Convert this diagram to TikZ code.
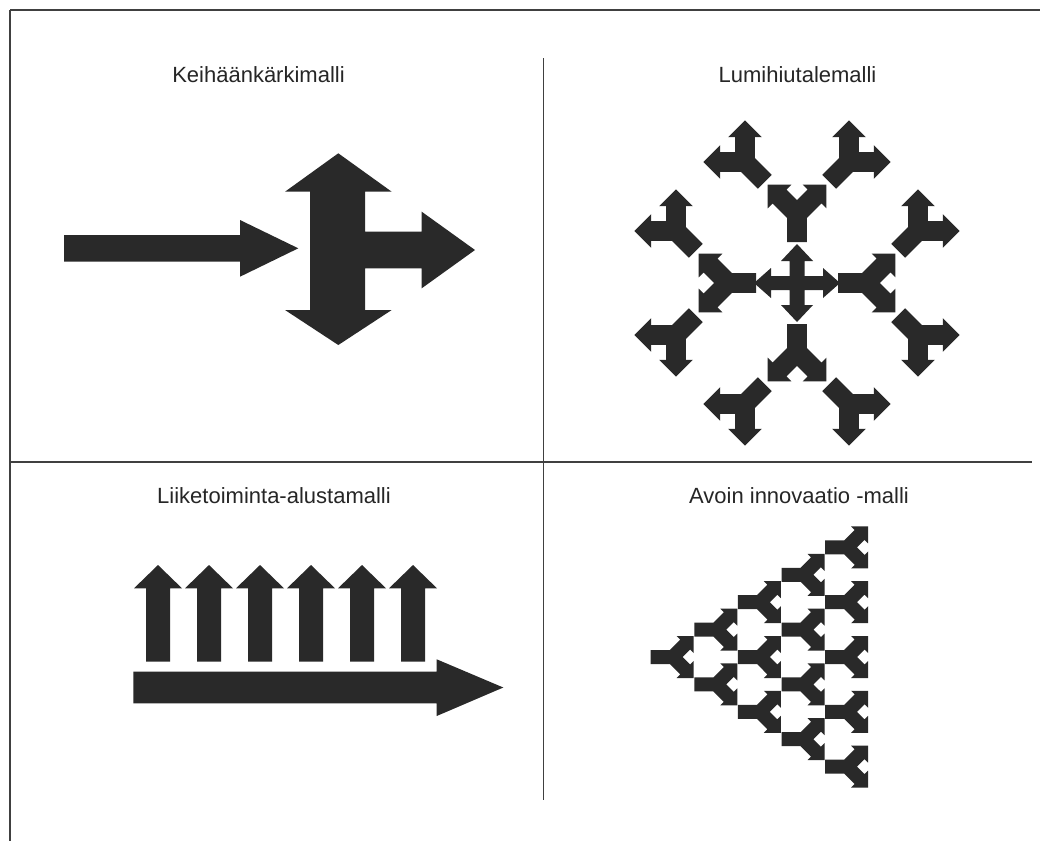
\documentclass[tikz,border=0pt]{standalone}
\usepackage{fontspec}
\setmainfont{Liberation Sans}
\usetikzlibrary{calc}
\tikzset{
  shapefill/.style={fill=black!84},
  rule/.style={draw=black!75, line width=1.6pt},
  lbl/.style={anchor=base, inner sep=0pt, font=\fontsize{22}{26}\selectfont, text=black!85},
  yel/.pic={
    \fill[shapefill] (0,-7) -- (0,7) -- ({#1-2.899},7) -- ({#1+7.55},17.45)
      -- ({#1+4},21) -- ({#1+21},21) -- ({#1+21},4) -- ({#1+17.45},7.55)
      -- ({#1+9.899},0) -- ({#1+17.45},-7.55) -- ({#1+21},-4) -- ({#1+21},-21)
      -- ({#1+4},-21) -- ({#1+7.55},-17.45) -- ({#1-2.899},-7) -- cycle;
  }
}
\begin{document}
\begin{tikzpicture}[x=1pt,y=1pt]
\useasboundingbox (0,0) rectangle (1040,-841);
\fill[white] (0,0) rectangle (1040,-841);

% frame and dividers
\draw[rule] (10,-10) -- (1040,-10);
\draw[rule] (10,-10) -- (10,-841);
\draw[rule] (543.5,-58) -- (543.5,-800);
\draw[rule] (10,-461.7) -- (1032,-461.7);

% labels
\node[lbl] (t1) at (258.5,-82.5) {Keihäänkärkimalli};
\node[lbl] (t2) at (797.5,-82.5) {Lumihiutalemalli};
\node[lbl] (t3) at (274,-503) {Liiketoiminta-alustamalli};
\node[lbl] (t4) at (799,-503) {Avoin innovaatio -malli};

% Keihaankarkimalli
\fill[shapefill] (64,-235) -- (240,-235) -- (240,-220) -- (298.3,-248.3)
  -- (240,-276.7) -- (240,-261.7) -- (64,-261.7) -- cycle;
\fill[shapefill] (310,-191.7) -- (285,-191.7) -- (338.3,-153.3) -- (391.7,-191.7)
  -- (365,-191.7) -- (365,-231.7) -- (421.7,-231.7) -- (421.7,-211.7)
  -- (475,-250) -- (421.7,-288.3) -- (421.7,-268.3) -- (365,-268.3)
  -- (365,-310) -- (391.7,-310) -- (338.3,-345) -- (285,-310) -- (310,-310) -- cycle;

% Lumihiutalemalli
\coordinate (C) at (797,-283);
\fill[shapefill] ($(C)+(7.5,7)$) -- ($(C)+(26,7)$) -- ($(C)+(26,15)$) -- ($(C)+(43,0)$)
  -- ($(C)+(26,-15)$) -- ($(C)+(26,-7)$) -- ($(C)+(7.5,-7)$) -- ($(C)+(7.5,-22)$)
  -- ($(C)+(16,-22)$) -- ($(C)+(0,-39)$) -- ($(C)+(-16,-22)$) -- ($(C)+(-7.5,-22)$)
  -- ($(C)+(-7.5,-7)$) -- ($(C)+(-26,-7)$) -- ($(C)+(-26,-15)$) -- ($(C)+(-43,0)$)
  -- ($(C)+(-26,15)$) -- ($(C)+(-26,7)$) -- ($(C)+(-7.5,7)$) -- ($(C)+(-7.5,22)$)
  -- ($(C)+(-16,22)$) -- ($(C)+(0,39)$) -- ($(C)+(16,22)$) -- ($(C)+(7.5,22)$) -- cycle;
\foreach \t in {0,90,180,270} {
  \pic[rotate=\t, scale=1.4] at ($(C)+(\t:41)$) {yel=20};
  \foreach \sg in {1,-1} {
    \pic[rotate={\t+45*\sg}, scale=1.4] at ($(C)+(\t:98.4)+({\t+90*\sg}:29.4)+({\t+45*\sg}:4)$) {yel=20};
  }
}

% Liiketoiminta-alustamalli
\foreach \i in {0,...,5} {
  \pgfmathsetmacro{\cx}{158+51*\i}
  \fill[shapefill] (\cx-12,-661.7) -- (\cx-12,-588.3) -- (\cx-24,-588.3) -- (\cx,-565)
    -- (\cx+24,-588.3) -- (\cx+12,-588.3) -- (\cx+12,-661.7) -- cycle;
}
\fill[shapefill] (133.3,-671.7) -- (436.7,-671.7) -- (436.7,-659.3) -- (503.3,-687.5)
  -- (436.7,-716) -- (436.7,-703.3) -- (133.3,-703.3) -- cycle;

% Avoin innovaatio -malli
\foreach \k in {0,...,4} {
  \foreach \j in {0,...,\k} {
    \pic at ({650.7+43.6*\k},{-(657+27.4*(2*\j-\k))}) {yel=22};
  }
}
\end{tikzpicture}
\end{document}
